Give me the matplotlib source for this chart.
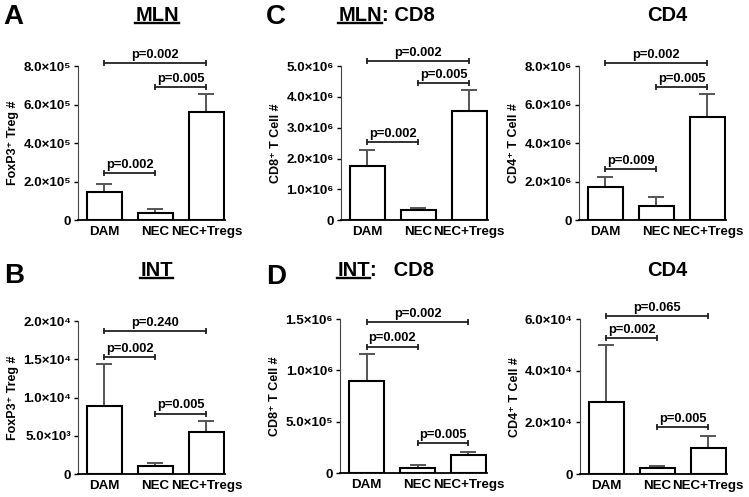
import matplotlib
matplotlib.use("Agg")
import matplotlib.pyplot as plt
from matplotlib.ticker import FuncFormatter

plt.rcParams['font.family'] = ['Liberation Sans', 'DejaVu Sans']
plt.rcParams['font.weight'] = 'bold'

groups = ["DAM", "NEC", "NEC+Tregs"]

# panel A: MLN FoxP3+ Treg
mln_treg = [1.45e5, 0.36e5, 5.6e5]
mln_treg_err = [0.42e5, 0.21e5, 0.95e5]
# panel C: MLN CD8 / CD4
mln_cd8 = [1.75e6, 0.32e6, 3.54e6]
mln_cd8_err = [0.52e6, 0.07e6, 0.68e6]
mln_cd4 = [1.71e6, 0.73e6, 5.35e6]
mln_cd4_err = [0.52e6, 0.46e6, 1.2e6]
# panel B: INT FoxP3+ Treg
int_treg = [0.89e4, 0.1e4, 0.55e4]
int_treg_err = [0.55e4, 0.05e4, 0.14e4]
# panel D: INT CD8 / CD4
int_cd8 = [0.90e6, 0.05e6, 0.178e6]
int_cd8_err = [0.26e6, 0.026e6, 0.026e6]
int_cd4 = [2.8e4, 0.22e4, 1.03e4]
int_cd4_err = [2.19e4, 0.09e4, 0.44e4]

# p-value brackets: (from, to, height, label)
mln_treg_p = [(0, 2, 8.15e5, "p=0.002"), (1, 2, 6.9e5, "p=0.005"), (0, 1, 2.44e5, "p=0.002")]
mln_cd8_p = [(0, 2, 5.16e6, "p=0.002"), (1, 2, 4.45e6, "p=0.005"), (0, 1, 2.53e6, "p=0.002")]
mln_cd4_p = [(0, 2, 8.15e6, "p=0.002"), (1, 2, 6.9e6, "p=0.005"), (0, 1, 2.65e6, "p=0.009")]
int_treg_p = [(0, 2, 1.87e4, "p=0.240"), (0, 1, 1.53e4, "p=0.002"), (1, 2, 0.79e4, "p=0.005")]
int_cd8_p = [(0, 2, 1.47e6, "p=0.002"), (0, 1, 1.23e6, "p=0.002"), (1, 2, 0.29e6, "p=0.005")]
int_cd4_p = [(0, 2, 6.12e4, "p=0.065"), (0, 1, 5.25e4, "p=0.002"), (1, 2, 1.83e4, "p=0.005")]

SUP = str.maketrans("0123456789", "⁰¹²³⁴⁵⁶⁷⁸⁹")


def sci(v, pos):
    if v == 0:
        return "0"
    e = 0
    m = v
    while m >= 10:
        m /= 10
        e += 1
    return "%.1f×10%s" % (m, str(e).translate(SUP))


def panel(rect, vals, errs, pvals, ymax, step, ylabel):
    ax = fig.add_axes(rect)
    x = range(len(groups))
    ax.bar(x, vals, width=0.68, color='white', edgecolor='black', linewidth=1.5, zorder=2)
    ax.errorbar(x, vals, yerr=[[0, 0, 0], errs], fmt='none', ecolor='#555555',
                elinewidth=1.4, capsize=6, capthick=1.4, zorder=1)
    ax.set_xlim(-0.52, 2.36)
    ax.set_ylim(0, ymax)
    ticks = [i * step for i in range(int(round(ymax / step)) + 1)]
    ax.set_yticks(ticks)
    ax.set_yticklabels([sci(t, None) for t in ticks], fontsize=9.6, fontweight='bold')
    ax.set_xticks(list(x))
    ax.set_xticklabels(groups, fontsize=9.6, fontweight='bold')
    ax.tick_params(axis='x', length=0, pad=4)
    ax.tick_params(axis='y', length=3, width=1, pad=2)
    ax.spines['top'].set_visible(False)
    ax.spines['right'].set_visible(False)
    ax.spines['left'].set_color('#444444')
    ax.spines['bottom'].set_linewidth(1.3)
    ax.set_ylabel(ylabel, fontsize=9, fontweight='bold')
    ax.yaxis.set_label_coords(-0.40, 0.5)
    for a, b, h, lab in pvals:
        ax.plot([a, b], [h, h], color='#222222', lw=1.3, marker='|', markersize=5,
                markeredgewidth=1.3, clip_on=False)
        ax.text((a + b) / 2, h + ymax * 0.015, lab, ha='center', va='bottom',
                fontsize=9.3, fontweight='bold')
    return ax


def title(x, y, under, rest=""):
    # underlined part ends at x when rest follows, otherwise centred on x
    ha = 'right' if rest else 'center'
    t = fig.text(x, y, under, fontsize=14.5, fontweight='bold', ha=ha, va='center')
    if rest:
        fig.text(x, y, rest, fontsize=14.5, fontweight='bold', ha='left', va='center')
    fig.canvas.draw()
    bb = t.get_window_extent().transformed(fig.transFigure.inverted())
    yl = bb.y0 + 0.004
    fig.add_artist(plt.Line2D([bb.x0, bb.x1], [yl, yl], transform=fig.transFigure,
                              color='black', lw=1.7))


fig = plt.figure(figsize=(7.49, 4.97), dpi=100)

panel([0.104, 0.557, 0.196, 0.310], mln_treg, mln_treg_err, mln_treg_p, 8e5, 2e5,
      "FoxP3⁺ Treg #")
panel([0.455, 0.557, 0.196, 0.310], mln_cd8, mln_cd8_err, mln_cd8_p, 5e6, 1e6,
      "CD8⁺ T Cell #")
panel([0.773, 0.557, 0.196, 0.310], mln_cd4, mln_cd4_err, mln_cd4_p, 8e6, 2e6,
      "CD4⁺ T Cell #")
panel([0.104, 0.046, 0.196, 0.308], int_treg, int_treg_err, int_treg_p, 2e4, 0.5e4,
      "FoxP3⁺ Treg #")
panel([0.454, 0.048, 0.196, 0.310], int_cd8, int_cd8_err, int_cd8_p, 1.5e6, 0.5e6,
      "CD8⁺ T Cell #")
panel([0.774, 0.046, 0.196, 0.312], int_cd4, int_cd4_err, int_cd4_p, 6e4, 2e4,
      "CD4⁺ T Cell #")

# panel letters and titles
for lx, ly, letter in [(0.004, 0.966, "A"), (0.355, 0.966, "C"),
                       (0.006, 0.445, "B"), (0.355, 0.443, "D")]:
    fig.text(lx, ly, letter, fontsize=20, fontweight='bold', va='center')

title(0.210, 0.968, "MLN")
title(0.510, 0.968, "MLN", ": CD8")
fig.text(0.891, 0.968, "CD4", fontsize=14.5, ha='center', va='center', fontweight='bold')
title(0.209, 0.455, "INT")
title(0.494, 0.455, "INT", ":   CD8")
fig.text(0.891, 0.455, "CD4", fontsize=14.5, ha='center', va='center', fontweight='bold')

fig.savefig("out.png", dpi=100)
